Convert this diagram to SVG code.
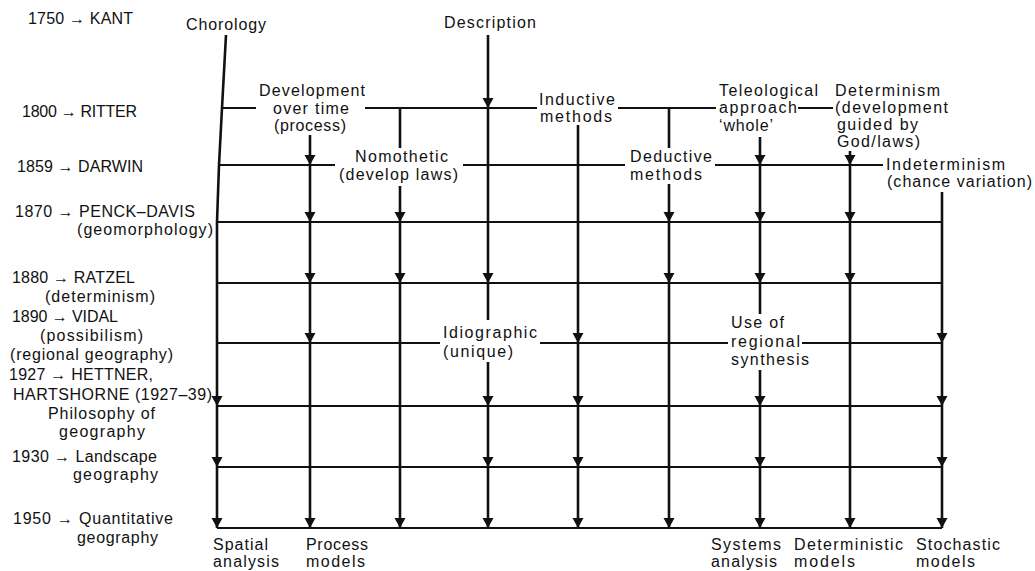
<svg xmlns="http://www.w3.org/2000/svg" xmlns:xlink="http://www.w3.org/1999/xlink" width="1035" height="571" viewBox="0 0 1035 571">
<style>
text{font-family:"Liberation Sans",Arial,sans-serif;font-size:16px;fill:#111}
.v{stroke:#111;stroke-width:2.6;fill:none}
.h{stroke:#111;stroke-width:2;fill:none}
</style>
<defs>
<path id="ah" d="M-5.5,-10 L5.5,-10 L0,0 Z" fill="#111"/>
</defs>
<rect width="1035" height="571" fill="#fff"/>

<g id="connectors">
<path class="h" d="M222,108 H256 M365,108 H537 M618,108 H716 M798,108 H833"/>
<path class="h" d="M219,165 H335 M463,165 H625 M715,165 H883"/>
<path class="h" d="M218,222 H942"/>
<path class="h" d="M217,283 H942"/>
<path class="h" d="M217,343 H440 M540,343 H728 M802,343 H942"/>
<path class="h" d="M217,406 H942"/>
<path class="h" d="M217,467 H942"/>
<path class="h" d="M217,528 H942"/>
<polyline class="v" points="226,35 222,108 219,165 217,222 217,528"/>
<path class="v" d="M310,135 V528"/>
<path class="v" d="M400,108 V148 M400,186 V528"/>
<path class="v" d="M488,35 V320 M488,362 V528"/>
<path class="v" d="M578,125 V528"/>
<path class="v" d="M669,108 V148 M669,184 V528"/>
<path class="v" d="M760,137 V314 M760,370 V528"/>
<path class="v" d="M850,151 V528"/>
<path class="v" d="M942,192 V528"/>
<use xlink:href="#ah" x="217" y="406"/>
<use xlink:href="#ah" x="217" y="467"/>
<use xlink:href="#ah" x="217" y="528"/>
<use xlink:href="#ah" x="310" y="165"/>
<use xlink:href="#ah" x="310" y="222"/>
<use xlink:href="#ah" x="310" y="283"/>
<use xlink:href="#ah" x="310" y="343"/>
<use xlink:href="#ah" x="310" y="528"/>
<use xlink:href="#ah" x="400" y="222"/>
<use xlink:href="#ah" x="400" y="283"/>
<use xlink:href="#ah" x="400" y="528"/>
<use xlink:href="#ah" x="488" y="108"/>
<use xlink:href="#ah" x="488" y="283"/>
<use xlink:href="#ah" x="488" y="406"/>
<use xlink:href="#ah" x="488" y="467"/>
<use xlink:href="#ah" x="488" y="528"/>
<use xlink:href="#ah" x="578" y="343"/>
<use xlink:href="#ah" x="578" y="406"/>
<use xlink:href="#ah" x="578" y="467"/>
<use xlink:href="#ah" x="578" y="528"/>
<use xlink:href="#ah" x="669" y="222"/>
<use xlink:href="#ah" x="669" y="283"/>
<use xlink:href="#ah" x="669" y="528"/>
<use xlink:href="#ah" x="760" y="165"/>
<use xlink:href="#ah" x="760" y="222"/>
<use xlink:href="#ah" x="760" y="283"/>
<use xlink:href="#ah" x="760" y="406"/>
<use xlink:href="#ah" x="760" y="467"/>
<use xlink:href="#ah" x="760" y="528"/>
<use xlink:href="#ah" x="850" y="165"/>
<use xlink:href="#ah" x="850" y="222"/>
<use xlink:href="#ah" x="850" y="283"/>
<use xlink:href="#ah" x="850" y="528"/>
<use xlink:href="#ah" x="942" y="343"/>
<use xlink:href="#ah" x="942" y="406"/>
<use xlink:href="#ah" x="942" y="467"/>
<use xlink:href="#ah" x="942" y="528"/>
</g>

<g id="kant"><text x="28" y="24" textLength="105">1750 → KANT</text></g>
<g id="ritter"><text x="22" y="117" textLength="115">1800 → RITTER</text></g>
<g id="darwin"><text x="17" y="172" textLength="126">1859 → DARWIN</text></g>
<g id="penck-davis"><text x="15" y="217" textLength="180">1870 → PENCK–DAVIS</text><text x="77" y="235" textLength="136">(geomorphology)</text></g>
<g id="ratzel"><text x="12" y="283" textLength="123">1880 → RATZEL</text><text x="45" y="302" textLength="110">(determinism)</text></g>
<g id="vidal"><text x="12" y="322" textLength="106">1890 → VIDAL</text><text x="40" y="341" textLength="103">(possibilism)</text><text x="10" y="360" textLength="163">(regional geography)</text></g>
<g id="hettner"><text x="9" y="380" textLength="144">1927 → HETTNER,</text><text x="13" y="400" textLength="199">HARTSHORNE (1927–39)</text><text x="48" y="419" textLength="107">Philosophy of</text><text x="59" y="437" textLength="86">geography</text></g>
<g id="landscape"><text x="12" y="462" textLength="145">1930 → Landscape</text><text x="73" y="480" textLength="85">geography</text></g>
<g id="quantitative"><text x="13" y="524" textLength="160">1950 → Quantitative</text><text x="77" y="543" textLength="81">geography</text></g>

<g id="chorology"><text x="186" y="30" textLength="80">Chorology</text></g>
<g id="description"><text x="444" y="28" textLength="92">Description</text></g>
<g id="development"><text x="259" y="96" textLength="106">Development</text><text x="273" y="114" textLength="76">over time</text><text x="274" y="131" textLength="72">(process)</text></g>
<g id="inductive"><text x="539" y="105" textLength="76">Inductive</text><text x="540" y="122" textLength="72">methods</text></g>
<g id="nomothetic"><text x="355" y="162" textLength="93">Nomothetic</text><text x="339" y="180" textLength="119">(develop  laws)</text></g>
<g id="deductive"><text x="630" y="162" textLength="82">Deductive</text><text x="630" y="180" textLength="72">methods</text></g>
<g id="teleological"><text x="719" y="96" textLength="99">Teleological</text><text x="719" y="113" textLength="78">approach</text><text x="719" y="131" textLength="54">‘whole’</text></g>
<g id="determinism"><text x="835" y="96" textLength="105">Determinism</text><text x="835" y="113" textLength="113">(development</text><text x="837" y="130" textLength="81">guided by</text><text x="837" y="147" textLength="83">God/laws)</text></g>
<g id="indeterminism"><text x="886" y="170" textLength="119">Indeterminism</text><text x="887" y="187" textLength="145">(chance variation)</text></g>
<g id="idiographic"><text x="443" y="338" textLength="94">Idiographic</text><text x="443" y="357" textLength="70">(unique)</text></g>
<g id="regional-synthesis"><text x="731" y="328" textLength="53">Use of</text><text x="731" y="347" textLength="69">regional</text><text x="731" y="365" textLength="78">synthesis</text></g>

<g id="spatial-analysis"><text x="213" y="550" textLength="55">Spatial</text><text x="213" y="567" textLength="66">analysis</text></g>
<g id="process-models"><text x="306" y="550" textLength="62">Process</text><text x="306" y="567" textLength="59">models</text></g>
<g id="systems-analysis"><text x="711" y="550" textLength="70">Systems</text><text x="711" y="567" textLength="66">analysis</text></g>
<g id="deterministic-models"><text x="794" y="550" textLength="109">Deterministic</text><text x="794" y="567" textLength="61">models</text></g>
<g id="stochastic-models"><text x="916" y="550" textLength="84">Stochastic</text><text x="916" y="567" textLength="59">models</text></g>
</svg>
